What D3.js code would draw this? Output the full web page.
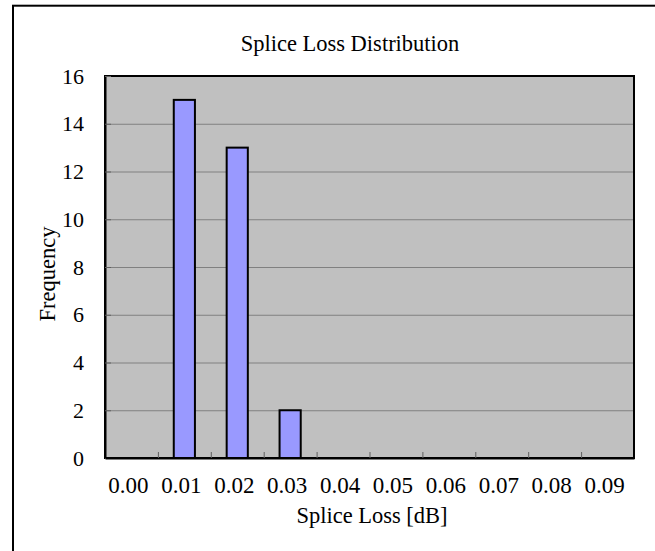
<!DOCTYPE html>
<html>
<head>
<meta charset="utf-8">
<script src="https://cdn.jsdelivr.net/npm/d3@7"></script>
<style>
  html, body { margin: 0; padding: 0; background: #ffffff; }
  svg { display: block; }
  text { font-family: "Liberation Serif", "Times New Roman", serif; fill: #000; }
</style>
</head>
<body>
<div id="chart"></div>
<script>
// ---- data ----
const categories = ["0.00", "0.01", "0.02", "0.03", "0.04", "0.05", "0.06", "0.07", "0.08", "0.09"];
const frequency = [0, 15, 13, 2, 0, 0, 0, 0, 0, 0];
const yTicks = [0, 2, 4, 6, 8, 10, 12, 14, 16];
const titleText = "Splice Loss Distribution";
const xTitle = "Splice Loss [dB]";
const yTitle = "Frequency";

// ---- layout ----
const W = 655, H = 551;
const plot = { left: 105, right: 634, top: 76, bottom: 458 };
const serif = "'Liberation Serif', 'Times New Roman', serif";

const svg = d3.select("#chart").append("svg")
  .attr("width", W).attr("height", H);

// outer chart frame (continues past the right and bottom edges of the window)
svg.append("rect")
  .attr("x", 13).attr("y", 5.7)
  .attr("width", 800).attr("height", 800)
  .attr("fill", "#fff").attr("stroke", "#000").attr("stroke-width", 2);

const x = d3.scaleBand().domain(categories)
  .range([plot.left, plot.right])
  .paddingInner(0.6).paddingOuter(0.3);
const xb = d3.scaleLinear().domain([0, categories.length]).range([plot.left, plot.right]);
const y = d3.scaleLinear().domain([0, 16]).range([plot.bottom, plot.top]);

// plot background
svg.append("rect")
  .attr("x", plot.left).attr("y", plot.top)
  .attr("width", plot.right - plot.left).attr("height", plot.bottom - plot.top)
  .attr("fill", "#c0c0c0");

// gridlines
const grid = svg.append("g")
  .attr("transform", `translate(${plot.left},0)`)
  .call(d3.axisLeft(y).tickValues(yTicks.filter(v => v > 0 && v < 16))
    .tickSize(-(plot.right - plot.left)).tickFormat(""));
grid.select(".domain").remove();
grid.selectAll("line").attr("stroke", "#808080").attr("stroke-width", 1);

// bars
svg.append("g").selectAll("rect")
  .data(categories.map((c, i) => ({ c, v: frequency[i] })).filter(d => d.v > 0))
  .join("rect")
  .attr("x", d => x(d.c))
  .attr("y", d => y(d.v))
  .attr("width", x.bandwidth())
  .attr("height", d => y(0) - y(d.v))
  .attr("fill", "#9999ff")
  .attr("stroke", "#000")
  .attr("stroke-width", 2);

// plot border
svg.append("rect")
  .attr("x", plot.left).attr("y", plot.top)
  .attr("width", plot.right - plot.left).attr("height", plot.bottom - plot.top)
  .attr("fill", "none").attr("stroke", "#000").attr("stroke-width", 2);

// y axis
const yAxis = svg.append("g")
  .attr("transform", `translate(${plot.left},0)`)
  .call(d3.axisLeft(y).tickValues(yTicks).tickSizeInner(-6).tickSizeOuter(0).tickPadding(21));
yAxis.select(".domain").attr("stroke", "#000").attr("stroke-width", 2);
yAxis.selectAll(".tick line").attr("stroke", "#606060");
yAxis.selectAll("text").attr("font-size", 22).style("font-family", serif);

// x axis: boundary ticks
const xTicks = svg.append("g")
  .attr("transform", `translate(0,${plot.bottom})`)
  .call(d3.axisBottom(xb).tickValues(d3.range(1, categories.length))
    .tickSizeInner(-6).tickSizeOuter(0).tickFormat(""));
xTicks.select(".domain").attr("stroke", "#000").attr("stroke-width", 2);
xTicks.selectAll(".tick line").attr("stroke", "#606060");

// x axis: category labels
const xLabels = svg.append("g")
  .attr("transform", `translate(-3,${plot.bottom})`)
  .call(d3.axisBottom(x).tickSize(0).tickPadding(0));
xLabels.select(".domain").remove();
xLabels.selectAll("text")
  .attr("y", 35).attr("dy", 0)
  .attr("font-size", 23)
  .style("font-family", serif);

// titles
svg.append("text")
  .attr("x", 350).attr("y", 51)
  .attr("text-anchor", "middle")
  .attr("font-size", 22.5)
  .text(titleText);

svg.append("text")
  .attr("x", 372).attr("y", 523)
  .attr("text-anchor", "middle")
  .attr("font-size", 22.5)
  .text(xTitle);

svg.append("text")
  .attr("transform", `translate(55,274) rotate(-90)`)
  .attr("text-anchor", "middle")
  .attr("font-size", 22.5)
  .text(yTitle);
</script>
</body>
</html>
